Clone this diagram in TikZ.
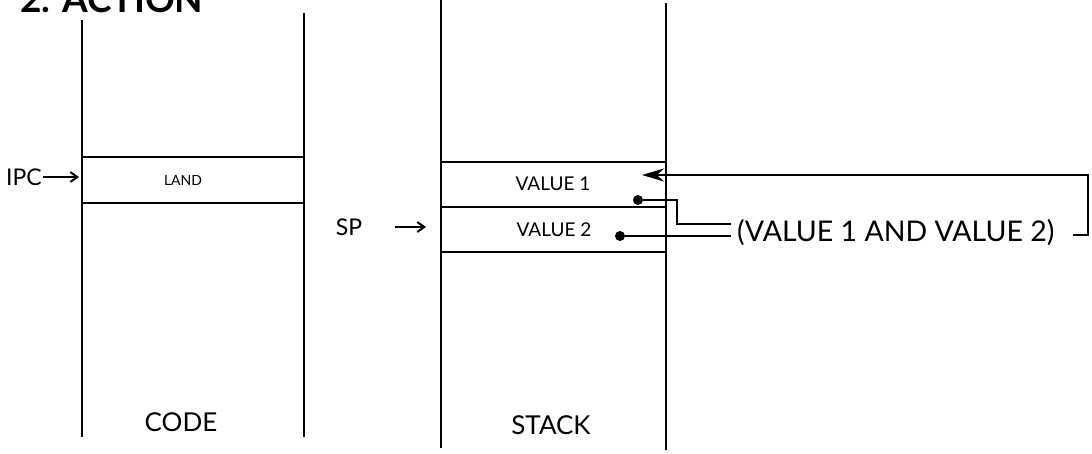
\documentclass[tikz,border=0pt]{standalone}
\usepackage{fontspec}
\setmainfont{Lato}
\usetikzlibrary{positioning,arrows.meta}

\begin{document}
\begin{tikzpicture}[
x=1pt, y=-1pt,
>=Stealth,
every node/.style={inner sep=2pt},
col/.style={line width=2.6pt},
cell/.style={line width=2.8pt},
wire/.style={line width=2.6pt},
ptr/.style={line width=2pt, -{Straight Barb[length=7pt,width=10pt]}},
dot/.style={circle, fill=black, inner sep=0pt, minimum size=10pt}
]

\useasboundingbox (0,0) rectangle (1092,454);

% title
\node[anchor=base west, font=\fontsize{37}{40}\selectfont\bfseries] (title) at (18,13) {2. ACTION};

% code column
\draw[col] (82,20) -- (82,437);
\draw[col] (304,13) -- (304,437);
\draw[cell] (82,157) -- (304,157);
\draw[cell] (82,203) -- (304,203);
\node[font=\fontsize{14}{16}\selectfont] (land) at (183,180) {LAND};
\node[font=\fontsize{26}{28}\selectfont] (code) at (181,422) {CODE};

% stack column
\draw[col] (441,0) -- (441,448);
\draw[col] (666,3) -- (666,450);
\draw[cell] (441,162) -- (666,162);
\draw[cell] (441,207) -- (666,207);
\draw[cell] (441,252) -- (666,252);
\node[font=\fontsize{19}{22}\selectfont] (val1) at (553,184) {VALUE 1};
\node[font=\fontsize{19}{22}\selectfont] (val2) at (554,230) {VALUE 2};
\node[font=\fontsize{26}{28}\selectfont] (stack) at (551,425) {STACK};

% pointers
\node[font=\fontsize{23}{26}\selectfont, inner sep=1pt] (ipc) at (24,177) {IPC};
\coordinate (ipcend) at (79,177);
\draw[ptr] (ipc.east) -- (ipcend);

\node[font=\fontsize{23}{26}\selectfont] (sp) at (349,227) {SP};
\coordinate (spbeg) at (395,227);
\coordinate (spend) at (426,227);
\draw[ptr] (spbeg) -- (spend);

% operation
\node[dot] (d1) at (638,200) {};
\node[dot] (d2) at (620,236) {};
\node[font=\fontsize{28.5}{32}\selectfont, anchor=west] (res) at (735,233) {(VALUE 1 AND VALUE 2)};
\coordinate (in1) at (731,224);
\coordinate (in2) at (731,236);
\coordinate (out) at (1073,235);
\coordinate (v1in) at (642,175);

\draw[wire] (d1) -- ++(39,0) |- (in1);
\draw[wire] (d2) -- (in2);
\draw[wire, -{Stealth[length=22pt,width=13pt]}] (out) -- ++(15,0) |- (v1in);

\end{tikzpicture}
\end{document}
